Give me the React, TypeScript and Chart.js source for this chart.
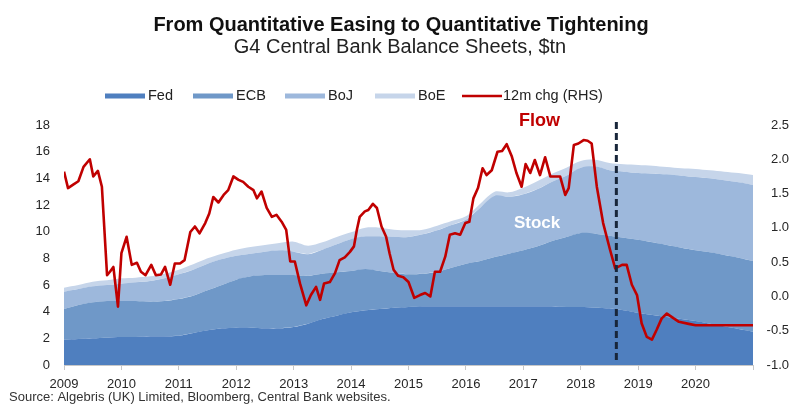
import React, { useEffect, useRef } from 'react';
import { Chart, registerables } from 'chart.js';

Chart.register(...registerables);

// ---- Data (stock: $tn, quarterly; flow: 12m change, $tn) ----
const stockYears = [
  2009, 2009.25, 2009.5, 2009.75, 2010, 2010.25, 2010.5, 2010.75,
  2011, 2011.25, 2011.5, 2011.75, 2012, 2012.25, 2012.5, 2012.75,
  2013, 2013.25, 2013.5, 2013.75, 2014, 2014.25, 2014.5, 2014.75,
  2015, 2015.25, 2015.5, 2015.75, 2016, 2016.25, 2016.5, 2016.75,
  2017, 2017.25, 2017.5, 2017.75, 2018, 2018.25, 2018.5, 2018.75,
  2019, 2019.25, 2019.5, 2019.75, 2020, 2020.25, 2020.5, 2020.75, 2021,
];
const fed = [
  1.9, 1.95, 2.0, 2.05, 2.1, 2.1, 2.15, 2.15,
  2.2, 2.4, 2.6, 2.75, 2.8, 2.8, 2.75, 2.75,
  2.85, 3.1, 3.45, 3.7, 3.95, 4.1, 4.2, 4.3,
  4.35, 4.4, 4.4, 4.4, 4.4, 4.4, 4.4, 4.4,
  4.4, 4.4, 4.4, 4.35, 4.35, 4.3, 4.25, 4.1,
  3.9, 3.75, 3.6, 3.45, 3.3, 3.1, 2.9, 2.7, 2.5,
];
const ecb = [
  2.3, 2.55, 2.7, 2.75, 2.7, 2.7, 2.6, 2.65,
  2.75, 2.8, 3.0, 3.25, 3.6, 3.85, 4.0, 4.0,
  3.9, 3.6, 3.4, 3.25, 3.1, 3.1, 2.85, 2.6,
  2.45, 2.45, 2.6, 2.9, 3.2, 3.4, 3.7, 3.95,
  4.2, 4.5, 4.9, 5.25, 5.55, 5.55, 5.45, 5.45,
  5.5, 5.45, 5.4, 5.35, 5.3, 5.35, 5.35, 5.35, 5.3,
];
const boj = [
  1.3, 1.2, 1.2, 1.2, 1.3, 1.4, 1.55, 1.7,
  1.85, 1.95, 2.0, 1.95, 1.8, 1.7, 1.75, 1.85,
  1.75, 1.6, 1.8, 2.1, 2.4, 2.45, 2.6, 2.7,
  2.8, 2.95, 3.1, 3.2, 3.3, 4.0, 4.6, 4.25,
  4.2, 4.3, 4.45, 4.6, 4.9, 5.05, 4.9, 4.95,
  5.0, 5.15, 5.3, 5.4, 5.5, 5.55, 5.6, 5.65, 5.7,
];
const boe = [
  0.3, 0.3, 0.35, 0.35, 0.4, 0.35, 0.35, 0.35,
  0.35, 0.4, 0.4, 0.4, 0.45, 0.5, 0.5, 0.55,
  0.75, 0.65, 0.55, 0.55, 0.5, 0.65, 0.65, 0.55,
  0.5, 0.35, 0.35, 0.3, 0.25, 0.3, 0.3, 0.35,
  0.5, 0.6, 0.6, 0.6, 0.5, 0.5, 0.55, 0.55,
  0.6, 0.6, 0.55, 0.55, 0.6, 0.6, 0.65, 0.7, 0.75,
];

const flowYears = [
  2009.0, 2009.07, 2009.16, 2009.25, 2009.34, 2009.45, 2009.51, 2009.59, 2009.66, 2009.75,
  2009.8, 2009.86, 2009.94, 2010.0, 2010.09, 2010.18, 2010.27, 2010.34, 2010.42, 2010.52,
  2010.6, 2010.69, 2010.76, 2010.85, 2010.93, 2011.02, 2011.1, 2011.2, 2011.28, 2011.36,
  2011.46, 2011.53, 2011.6, 2011.69, 2011.78, 2011.86, 2011.95, 2012.04, 2012.12, 2012.21,
  2012.3, 2012.36, 2012.44, 2012.53, 2012.62, 2012.7, 2012.79, 2012.87, 2012.94, 2013.02,
  2013.11, 2013.22, 2013.3, 2013.39, 2013.46, 2013.53, 2013.63, 2013.72, 2013.8, 2013.89,
  2013.98, 2014.05, 2014.1, 2014.15, 2014.24, 2014.3, 2014.38, 2014.45, 2014.53, 2014.61,
  2014.67, 2014.74, 2014.82, 2014.91, 2015.0, 2015.1, 2015.2, 2015.29, 2015.38, 2015.46,
  2015.55, 2015.64, 2015.72, 2015.81, 2015.9, 2015.99, 2016.06, 2016.13, 2016.21, 2016.29,
  2016.36, 2016.45, 2016.55, 2016.63, 2016.71, 2016.8, 2016.88, 2016.97, 2017.04, 2017.12,
  2017.2, 2017.29, 2017.38, 2017.47, 2017.55, 2017.64, 2017.73, 2017.79, 2017.88, 2017.96,
  2018.05, 2018.12, 2018.19, 2018.28, 2018.39, 2018.51, 2018.6, 2018.72, 2018.8, 2018.89,
  2018.98, 2019.06, 2019.15, 2019.24, 2019.32, 2019.41, 2019.5, 2019.62, 2019.71, 2019.88,
  2020.0, 2021.0,
];
const flowValues = [
  1.82, 1.58, 1.63, 1.68, 1.89, 2.0, 1.75, 1.83, 1.6, 0.31,
  0.36, 0.43, -0.15, 0.63, 0.87, 0.46, 0.49, 0.36, 0.31, 0.46,
  0.31, 0.32, 0.43, 0.17, 0.48, 0.48, 0.53, 0.94, 1.02, 0.92,
  1.07, 1.21, 1.45, 1.37, 1.48, 1.55, 1.75, 1.7, 1.67, 1.6,
  1.55, 1.43, 1.53, 1.29, 1.16, 1.19, 1.09, 0.97, 0.51, 0.51,
  0.19, -0.13, 0.02, 0.14, -0.05, 0.19, 0.21, 0.34, 0.53, 0.57,
  0.65, 0.73, 0.97, 1.16, 1.24, 1.26, 1.35, 1.29, 1.02, 0.87,
  0.63, 0.39, 0.3, 0.28, 0.21, -0.02, 0.02, 0.05, 0.0, 0.36,
  0.36, 0.58, 0.9, 0.92, 0.9, 1.07, 1.09, 1.43, 1.58, 1.87,
  1.77, 1.84, 2.11, 2.12, 2.22, 2.04, 1.8, 1.6, 1.93, 1.8,
  1.99, 1.77, 2.03, 1.75, 1.75, 1.75, 1.48, 1.58, 2.21, 2.23,
  2.28, 2.27, 2.23, 1.6, 1.07, 0.68, 0.41, 0.46, 0.46, 0.17,
  0.02, -0.39, -0.59, -0.63, -0.49, -0.32, -0.25, -0.32, -0.37, -0.4,
  -0.42, -0.42,
];

const qtStart = 2018.62;
const seriesNames = ['Fed', 'ECB', 'BoJ', 'BoE'];
const seriesColors = ['#4f7fbf', '#6f98c8', '#9db8dc', '#c6d5ea'];
const flowName = '12m chg (RHS)';
const flowColor = '#c00000';
const titleText = 'From Quantitative Easing to Quantitative Tightening';
const subtitleText = 'G4 Central Bank Balance Sheets, $tn';
const sourceText = 'Source: Algebris (UK) Limited, Bloomberg, Central Bank websites.';

const FONT = '"Liberation Sans", Arial, sans-serif';

const overlayPlugin = {
  id: 'overlay',
  afterDatasetsDraw(chart: any) {
    const { ctx, chartArea, scales } = chart;
    const x = scales.x.getPixelForValue(qtStart);
    ctx.save();
    ctx.setLineDash([7, 4]);
    ctx.lineWidth = 3;
    ctx.strokeStyle = '#18263a';
    ctx.beginPath();
    ctx.moveTo(x, chartArea.top - 3);
    ctx.lineTo(x, chartArea.bottom - 3);
    ctx.stroke();
    ctx.setLineDash([]);

    ctx.textAlign = 'center';
    ctx.textBaseline = 'middle';
    ctx.font = `bold 18px ${FONT}`;
    ctx.fillStyle = flowColor;
    ctx.fillText('Flow', scales.x.getPixelForValue(2017.28), scales.y1.getPixelForValue(2.56));
    ctx.font = `bold 17px ${FONT}`;
    ctx.fillStyle = '#ffffff';
    ctx.fillText('Stock', scales.x.getPixelForValue(2017.24), scales.y.getPixelForValue(10.6));
    ctx.restore();
  },
  afterDraw(chart: any) {
    const { ctx } = chart;
    ctx.save();
    ctx.textAlign = 'center';
    ctx.textBaseline = 'alphabetic';
    ctx.font = `bold 20px ${FONT}`;
    ctx.fillStyle = '#111';
    ctx.fillText(titleText, 401, 31);
    ctx.font = `20px ${FONT}`;
    ctx.fillStyle = '#222';
    ctx.fillText(subtitleText, 400, 53);

    // legend
    const swX = [105, 193, 285, 375];
    const ly = 96;
    ctx.font = `14.5px ${FONT}`;
    ctx.textAlign = 'left';
    ctx.textBaseline = 'middle';
    seriesNames.forEach((n, i) => {
      ctx.fillStyle = seriesColors[i];
      ctx.fillRect(swX[i], ly - 2.5, 40, 5);
      ctx.fillStyle = '#222';
      ctx.fillText(n, swX[i] + 43, ly);
    });
    ctx.strokeStyle = flowColor;
    ctx.lineWidth = 2.5;
    ctx.beginPath();
    ctx.moveTo(462, ly);
    ctx.lineTo(502, ly);
    ctx.stroke();
    ctx.fillStyle = '#222';
    ctx.fillText(flowName, 503, ly);

    ctx.font = `13px ${FONT}`;
    ctx.fillStyle = '#333';
    ctx.textBaseline = 'alphabetic';
    ctx.fillText(sourceText, 9, 401);
    ctx.restore();
  },
};

export default function App() {
  const ref = useRef<HTMLCanvasElement | null>(null);

  useEffect(() => {
    document.body.style.margin = '0';
    const canvas = ref.current;
    if (!canvas) return;
    Chart.defaults.font.family = FONT;

    const stockSets = [fed, ecb, boj, boe].map((vals, i) => ({
      type: 'line' as const,
      label: seriesNames[i],
      data: stockYears.map((x, k) => ({ x, y: vals[k] })),
      yAxisID: 'y',
      backgroundColor: seriesColors[i],
      borderColor: seriesColors[i],
      borderWidth: 0,
      pointRadius: 0,
      fill: 'stack',
      stack: 'g4',
      tension: 0.3,
    }));

    const chart = new Chart(canvas, {
      type: 'line',
      data: {
        datasets: [
          {
            label: flowName,
            data: flowYears.map((x, k) => ({ x, y: flowValues[k] })),
            yAxisID: 'y1',
            borderColor: flowColor,
            backgroundColor: flowColor,
            borderWidth: 2.6,
            pointRadius: 0,
            fill: false,
            tension: 0,
            borderJoinStyle: 'round',
          } as any,
          ...stockSets,
        ],
      },
      options: {
        responsive: false,
        animation: false,
        devicePixelRatio: 1,
        layout: { padding: { top: 125, left: 0, right: 3, bottom: 0 } },
        plugins: {
          legend: { display: false },
          title: { display: false },
          tooltip: { enabled: false },
        },
        scales: {
          x: {
            type: 'linear',
            min: 2009,
            max: 2021,
            afterFit: (s: any) => { s.height = 42; },
            ticks: {
              stepSize: 1,
              autoSkip: false,
              maxRotation: 0,
              padding: 7,
              color: '#262626',
              font: { size: 13 },
              callback: (v: any) => (v >= 2021 ? '' : String(v)),
            },
            grid: { drawOnChartArea: false, drawTicks: true, tickLength: 5, color: '#c8c8c8' },
            border: { display: true, color: '#c8c8c8' },
          },
          y: {
            type: 'linear',
            position: 'left',
            stacked: true,
            min: 0,
            max: 18,
            afterFit: (s: any) => { s.width = 64; },
            ticks: { stepSize: 2, padding: 14, color: '#262626', font: { size: 13 } },
            grid: { display: false, drawTicks: false },
            border: { display: false },
          },
          y1: {
            type: 'linear',
            position: 'right',
            stacked: false,
            min: -1,
            max: 2.5,
            afterFit: (s: any) => { s.width = 36; },
            ticks: {
              stepSize: 0.5,
              crossAlign: 'far',
              color: '#262626',
              font: { size: 13 },
              callback: (v: any) => Number(v).toFixed(1),
            },
            grid: { display: false, drawTicks: false },
            border: { display: false },
          },
        },
      } as any,
      plugins: [overlayPlugin],
    });

    return () => chart.destroy();
  }, []);

  return (
    <div style={{ width: 792, height: 407, background: '#fff' }}>
      <canvas ref={ref} width={792} height={407} style={{ display: 'block' }} />
    </div>
  );
}
